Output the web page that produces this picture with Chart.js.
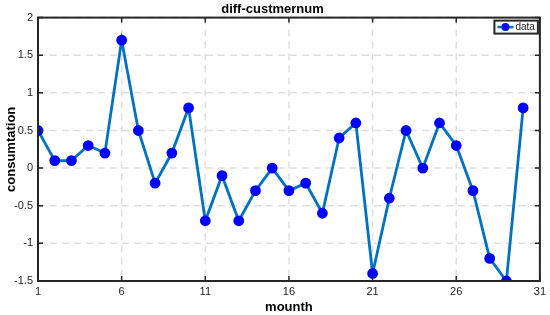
<!DOCTYPE html>
<html>
<head>
<meta charset="utf-8">
<script src="https://cdn.jsdelivr.net/npm/chart.js@4.4.0/dist/chart.umd.min.js"></script>
<style>
  html, body { margin: 0; padding: 0; background: #fff; }
  #wrap { width: 550px; height: 315px; }
</style>
</head>
<body>
<div id="wrap"><canvas id="chart"></canvas></div>
<script>
// month index and the diff values
const months = [1,2,3,4,5,6,7,8,9,10,11,12,13,14,15,16,17,18,19,20,21,22,23,24,25,26,27,28,29,30];
const diffValues = [0.5,0.1,0.1,0.3,0.2,1.7,0.5,-0.2,0.2,0.8,-0.7,-0.1,-0.7,-0.3,0,-0.3,-0.2,-0.6,0.4,0.6,-1.4,-0.4,0.5,0,0.6,0.3,-0.3,-1.2,-1.5,0.8];
const xTicks = [1,6,11,16,21,26,31];
const yTicks = [-1.5,-1,-0.5,0,0.5,1,1.5,2];

const FRAME = '#262626';
const LINE = '#0072BD';
const MARK = '#0000FF';
const FONT = 'Arial, "Liberation Sans", sans-serif';

// dashed grid drawn under the data
const gridPlugin = {
  id: 'dashGrid',
  beforeDatasetsDraw(chart) {
    const { ctx, chartArea: a, scales } = chart;
    ctx.save();
    ctx.strokeStyle = '#dedede';
    ctx.lineWidth = 1.5;
    ctx.setLineDash([7, 5]);
    ctx.beginPath();
    xTicks.forEach(v => {
      const x = scales.x.getPixelForValue(v);
      ctx.moveTo(x, a.top); ctx.lineTo(x, a.bottom);
    });
    yTicks.forEach(v => {
      const y = scales.y.getPixelForValue(v);
      ctx.moveTo(a.left, y); ctx.lineTo(a.right, y);
    });
    ctx.stroke();
    ctx.restore();
  }
};

// MATLAB-ish box with inward tick marks + legend
const boxPlugin = {
  id: 'box',
  afterDatasetsDraw(chart) {
    const { ctx, chartArea: a, scales } = chart;
    ctx.save();
    ctx.strokeStyle = FRAME;
    ctx.lineWidth = 1.5;
    const len = 5;
    ctx.beginPath();
    xTicks.forEach(v => {
      const x = scales.x.getPixelForValue(v);
      ctx.moveTo(x, a.bottom); ctx.lineTo(x, a.bottom - len);
      ctx.moveTo(x, a.top); ctx.lineTo(x, a.top + len);
    });
    yTicks.forEach(v => {
      const y = scales.y.getPixelForValue(v);
      ctx.moveTo(a.left, y); ctx.lineTo(a.left + len, y);
      ctx.moveTo(a.right, y); ctx.lineTo(a.right - len, y);
    });
    ctx.stroke();
    ctx.lineWidth = 2;
    ctx.strokeRect(a.left, a.top, a.right - a.left, a.bottom - a.top);

    const ds = chart.data.datasets[0];
    ctx.font = '10px ' + FONT;
    const tw = ctx.measureText(ds.label).width;
    const bw = tw + 24, bh = 13;
    const bx = a.right - 2 - bw, by = a.top + 3;
    ctx.fillStyle = '#fff';
    ctx.fillRect(bx, by, bw, bh);
    ctx.strokeStyle = FRAME;
    ctx.lineWidth = 2;
    ctx.strokeRect(bx, by, bw, bh);
    ctx.strokeStyle = LINE;
    ctx.lineWidth = 2.5;
    ctx.beginPath();
    ctx.moveTo(bx + 3, by + bh / 2); ctx.lineTo(bx + 19, by + bh / 2);
    ctx.stroke();
    ctx.fillStyle = MARK;
    ctx.beginPath();
    ctx.arc(bx + 11, by + bh / 2, 4, 0, Math.PI * 2);
    ctx.fill();
    ctx.fillStyle = '#222';
    ctx.textBaseline = 'middle';
    ctx.fillText(ds.label, bx + 21, by + bh / 2 + 0.5);
    ctx.restore();
  }
};

const hiddenGrid = { display: true, color: 'rgba(0,0,0,0)', drawTicks: false };

new Chart(document.getElementById('chart'), {
  type: 'line',
  data: {
    datasets: [{
      label: 'data',
      data: months.map((m, i) => ({ x: m, y: diffValues[i] })),
      borderColor: LINE,
      borderWidth: 2.8,
      backgroundColor: MARK,
      pointBackgroundColor: MARK,
      pointBorderColor: MARK,
      pointRadius: 4,
      tension: 0,
      fill: false
    }]
  },
  options: {
    responsive: true,
    maintainAspectRatio: false,
    animation: false,
    layout: { padding: { left: 4, right: 9, top: 0, bottom: 0 } },
    plugins: {
      legend: { display: false },
      tooltip: { enabled: false },
      title: {
        display: true,
        text: 'diff-custmernum',
        color: '#000',
        font: { family: FONT, size: 13, weight: 'bold' },
        padding: { top: 2, bottom: 0 }
      }
    },
    scales: {
      x: {
        type: 'linear',
        min: 1, max: 31,
        afterBuildTicks(s) { s.ticks = xTicks.map(v => ({ value: v })); },
        afterFit(s) { s.height = 34; },
        grid: hiddenGrid,
        border: { display: false },
        ticks: { color: '#222', font: { family: FONT, size: 11 }, padding: 4, maxRotation: 0, callback: v => String(v) },
        title: { display: true, text: 'mounth', color: '#000', font: { family: FONT, size: 13, weight: 'bold' }, padding: { top: 0, bottom: 0 } }
      },
      y: {
        min: -1.5, max: 2,
        afterBuildTicks(s) { s.ticks = yTicks.map(v => ({ value: v })); },
        afterFit(s) { s.width = 34; },
        grid: hiddenGrid,
        border: { display: false },
        ticks: { color: '#222', font: { family: FONT, size: 11 }, padding: 5, callback: v => String(v) },
        title: { display: true, text: 'consumtation', color: '#000', font: { family: FONT, size: 13, weight: 'bold' }, padding: { top: 0, bottom: 2 } }
      }
    }
  },
  plugins: [gridPlugin, boxPlugin]
});
</script>
</body>
</html>
